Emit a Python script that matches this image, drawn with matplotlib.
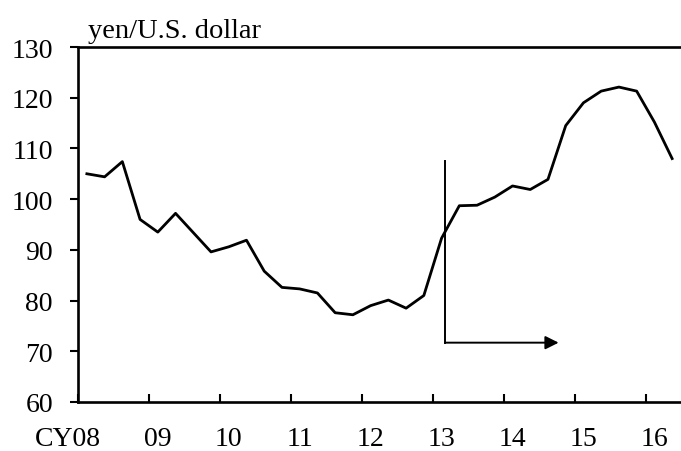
import numpy as np
import matplotlib.pyplot as plt

plt.rcParams['font.family'] = ['Liberation Serif', 'DejaVu Serif']

# quarterly averages, CY2008 Q1 .. CY2016 Q2
yen = [105.0, 104.4, 107.4, 96.0, 93.5, 97.2, 93.4, 89.6,
       90.6, 91.9, 85.8, 82.6, 82.3, 81.5, 77.6, 77.2,
       79.0, 80.1, 78.5, 81.0, 92.3, 98.7, 98.8, 100.4,
       102.6, 101.9, 103.9, 114.5, 119.0, 121.3, 122.1, 121.3,
       115.2, 108.0]
year_labels = ['CY08', '09', '10', '11', '12', '13', '14', '15', '16']
yticks = [60, 70, 80, 90, 100, 110, 120, 130]

x = np.arange(len(yen))

fig = plt.figure(figsize=(6.81, 4.52), dpi=100)
ax = fig.add_axes([78 / 681, 49 / 452, 603 / 681, 355 / 452])

ax.plot(x, yen, color='black', lw=2.0)

ax.set_xlim(-0.5, 33.5)
ax.set_ylim(60, 130)

# tick marks between years, labels on Q1 points
ax.set_xticks(np.arange(-0.5, 33.6, 4))
ax.set_xticklabels([])
ax.tick_params(axis='x', which='major', direction='in', length=6, width=1.5)
lab_pos = [4 * i for i in range(len(year_labels))]
lab_pos[0] = 0.8
ax.set_xticks(lab_pos, minor=True)
ax.set_xticklabels(year_labels, minor=True, fontsize=20)
ax.tick_params(axis='x', which='minor', length=0, pad=17)
ax.get_xticklabels(minor=True)[0].set_ha('right')

ax.set_yticks(yticks)
ax.set_yticklabels([str(v) for v in yticks], fontsize=20)
ax.tick_params(axis='y', direction='out', length=6, width=1.5, pad=12)

for s in ['left', 'bottom', 'top']:
    ax.spines[s].set_linewidth(1.9)
ax.spines['right'].set_visible(False)

ax.text(10 / 603, 1.01, 'yen/U.S. dollar', transform=ax.transAxes,
        fontsize=20.5, ha='left', va='bottom')

# Abenomics marker
ax.plot([20.2, 20.2], [107.5, 71.7], color='black', lw=1.4)
ax.annotate('', xy=(26.6, 71.7), xytext=(20.2, 71.7),
            arrowprops=dict(arrowstyle='-|>', color='black', lw=1.4,
                            mutation_scale=20, shrinkA=0, shrinkB=0))

fig.savefig('out.png', dpi=100)
